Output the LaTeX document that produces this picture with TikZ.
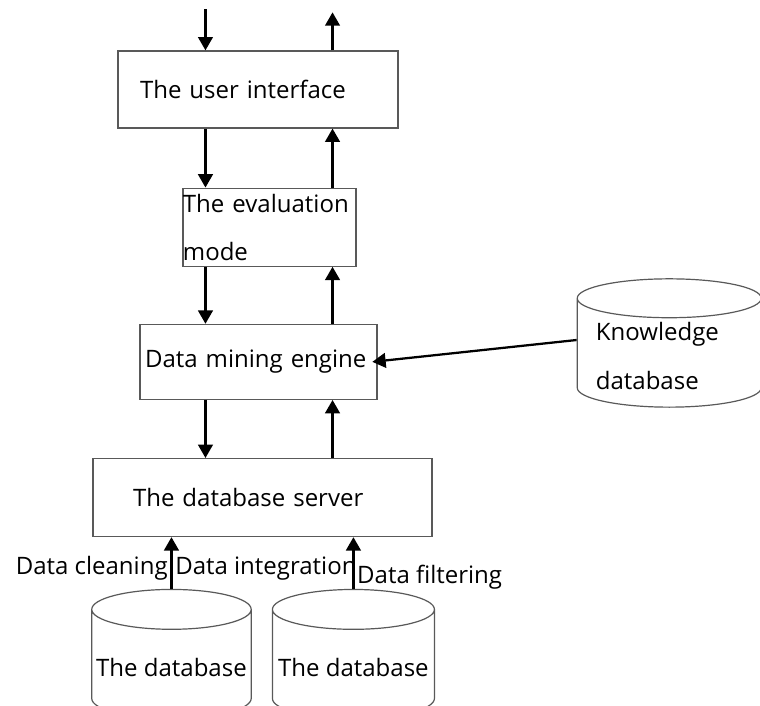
\documentclass[tikz,border=0pt]{standalone}
\usepackage{fontspec}
\setmainfont{Open Sans}
\usepackage{tikz}
\usetikzlibrary{shapes.geometric,arrows.meta,positioning}

\begin{document}
\begin{tikzpicture}[
    font=\fontsize{18}{21}\selectfont,
    box/.style={rectangle, draw=black!65, line width=0.9pt, align=left, inner ysep=0pt},
    db/.style={cylinder, shape border rotate=90, aspect=0.25, draw=black!65, line width=0.9pt, align=center},
    arr/.style={-{Triangle[width=11pt,length=10pt]}, line width=1.7pt},
    tag/.style={inner sep=2pt},
]

% page
\path[use as bounding box, fill=white] (0,0) rectangle (570pt,-529.5pt);

% main stack
\node[box, text width=177pt, inner xsep=16.5pt, minimum height=57.75pt] (ui) at (193.5pt,-67.1pt) {The user interface};
\node[box, text width=129.75pt, inner xsep=0pt, minimum height=58.5pt, below=44.25pt of ui, xshift=8.6pt] (eval) {The evaluation\\[15pt]mode};
\node[box, text width=170.25pt, inner xsep=3.75pt, minimum height=56.25pt, below=42.75pt of eval, xshift=-8.2pt] (engine) {Data mining engine};
\node[box, text width=194.25pt, inner xsep=30pt, minimum height=58.5pt, below=43.5pt of engine, xshift=3pt] (server) {The database server};

% data sources
\node[db, minimum width=117.75pt, minimum height=96.75pt, below=38.75pt of server, xshift=-68.3pt] (db1) {The database};
\node[db, minimum width=121.5pt, minimum height=96.75pt, right=15pt of db1] (db2) {The database};
\node[db, minimum width=138pt, minimum height=89.25pt, text width=110pt, align=left, right=149.25pt of engine, yshift=4.4pt] (know) {Knowledge\\[15pt]database};

% arrow columns
\coordinate (lcol) at ([xshift=-39.4pt]ui.center);
\coordinate (rcol) at ([xshift=55.9pt]ui.center);
\coordinate (usrin) at ([yshift=30.75pt]ui.north -| lcol);
\coordinate (usrout) at ([yshift=28.5pt]ui.north -| rcol);

% down / up arrows
\draw[arr] (usrin) -- (ui.north -| lcol);
\draw[arr] (ui.north -| rcol) -- (usrout);
\draw[arr] (ui.south -| lcol) -- (eval.north -| lcol);
\draw[arr] (eval.north -| rcol) -- (ui.south -| rcol);
\draw[arr] (eval.south -| lcol) -- (engine.north -| lcol);
\draw[arr] (engine.north -| rcol) -- (eval.south -| rcol);
\draw[arr] (engine.south -| lcol) -- (server.north -| lcol);
\draw[arr] (server.north -| rcol) -- (engine.south -| rcol);

% knowledge base
\draw[arr] ([yshift=12pt]know.west) -- ([xshift=-4pt]engine.east);

% preprocessing
\draw[arr] (db1.north) -- (db1.north |- server.south)
    node[tag, pos=0.4, left] (clean) {Data cleaning}
    node[tag, pos=0.4, right] (integ) {Data integration};
\draw[arr] (db2.north) -- (db2.north |- server.south)
    node[tag, pos=0.23, right] (filter) {Data filtering};

\end{tikzpicture}
\end{document}
